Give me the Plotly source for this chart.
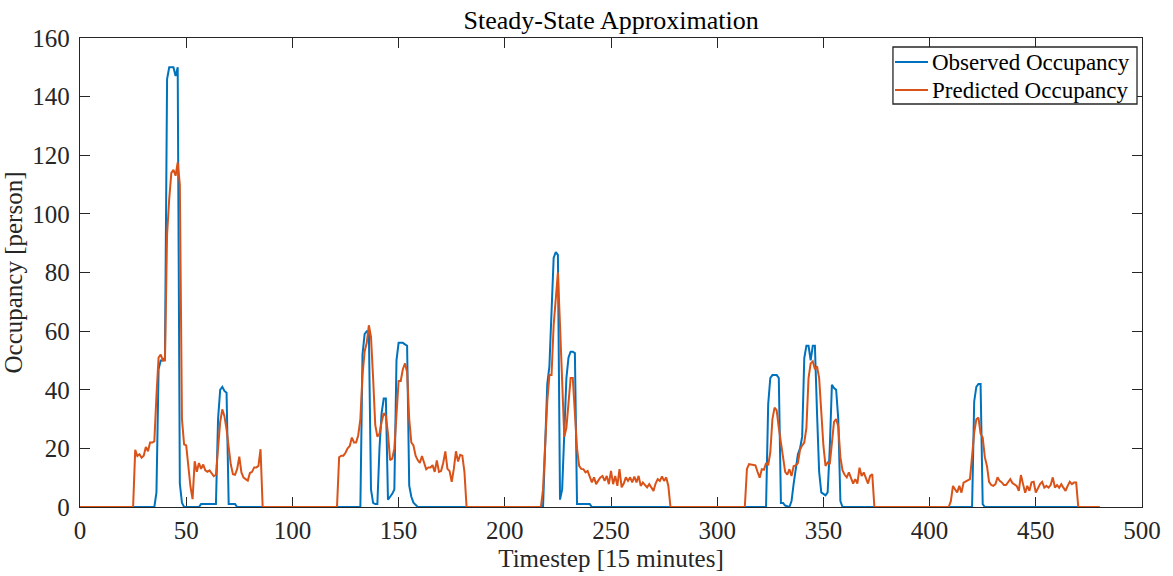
import plotly.graph_objects as go

# ---- data (timestep, occupancy) ----
OBS_T = [0, 35, 36, 37, 38, 39, 40, 41, 42, 43, 44, 45, 46, 47, 48, 49, 56, 57, 64, 65, 66, 67, 68, 69, 70, 73, 74,
         132, 133, 134, 135, 136, 137, 138, 139, 140, 141, 142, 143, 144, 145, 146, 147, 148, 149, 150, 151, 152, 153,
         154, 155, 156, 157, 158, 159,
         218, 219, 220, 221, 222, 223, 224, 225, 226, 227, 228, 229, 230, 231, 232, 233, 234, 240, 241,
         323, 324, 325, 326, 327, 328, 329, 330, 331, 332, 334, 335, 336, 337, 338, 339, 340, 341, 342, 343, 344, 345,
         346, 347, 348, 349, 350, 351, 352, 353, 354, 355, 356, 357, 358, 359,
         420, 421, 422, 423, 424, 425, 426, 480]
OBS_Y = [0, 0, 5, 47, 50, 50, 51, 146, 150, 150, 150, 147, 150, 8, 1.5, 0, 0, 1, 1, 30, 40, 41, 39.6, 39, 1, 1, 0,
         0, 52, 59, 60, 60, 6, 1.4, 1, 1, 20, 32, 37, 37, 2.5, 3.5, 4.5, 6, 50, 56, 56, 56, 55.5,
         55, 7.3, 3.5, 1.5, 0.8, 0,
         0, 25, 42, 48, 65, 85, 87, 86, 2.5, 6, 25, 44, 51, 53, 53, 52.5, 1, 1, 0,
         0, 35, 44, 45, 45, 45, 44, 1.4, 1.4, 0.5, 0, 2, 8, 13, 18, 20, 24, 50.8, 55, 55, 50, 55,
         55, 32, 12, 5, 4.5, 4, 5, 20, 41.7, 40.6, 40, 30, 2, 0,
         0, 36, 41, 42, 42, 1, 0, 0]

PRED_T = [0, 25, 26, 27, 28, 29, 30, 31, 32, 33, 34, 35, 36, 37, 38, 39, 40, 41, 42, 43, 44, 45, 46, 47, 48, 49,
          50, 51, 52, 53, 54, 55, 56, 57, 58, 59, 60, 61, 62, 63, 64, 65, 66, 67, 68, 69, 70, 71, 72, 73, 74, 75,
          76, 77, 78, 79, 80, 81, 82, 83, 84, 85, 86,
          121, 122, 123, 124, 125, 126, 127, 128, 129, 130, 131, 132, 133, 134, 135, 136, 137, 138, 139, 140, 141,
          142, 143, 144, 145, 146, 147, 148, 149, 150, 151, 152, 153, 154, 155, 156, 157, 158, 159, 160, 161, 162,
          163, 164, 165, 166, 167, 168, 169, 170, 171, 172, 173, 174, 175, 176, 177, 178, 179, 180, 181, 182,
          217, 218, 219, 220, 221, 222, 223, 224, 225, 226, 227, 228, 229, 230, 231, 232, 233, 234, 235, 236, 237,
          238, 239, 240, 241, 242, 243, 244, 245, 246, 247, 248, 249, 250, 251, 252, 253, 254, 255, 256, 257, 258,
          259, 260, 261, 262, 263, 264, 265, 266, 267, 268, 269, 270, 271, 272, 273, 274, 275, 276, 277, 278,
          313, 314, 315, 316, 317, 318, 319, 320, 321, 322, 323, 324, 325, 326, 327, 328, 329, 330, 331, 332, 333,
          334, 335, 336, 337, 338, 339, 340, 341, 342, 343, 344, 345, 346, 347, 348, 349, 350, 351, 352, 353, 354,
          355, 356, 357, 358, 359, 360, 361, 362, 363, 364, 365, 366, 367, 368, 369, 370, 371, 372, 373, 374,
          409, 410, 411, 412, 413, 414, 415, 416, 417, 418, 419, 420, 421, 422, 423, 424, 425, 426, 427, 428, 429,
          430, 431, 432, 433, 434, 435, 436, 437, 438, 439, 440, 441, 442, 443, 444, 445, 446, 447, 448, 449, 450,
          451, 452, 453, 454, 455, 456, 457, 458, 459, 460, 461, 462, 463, 464, 465, 466, 467, 468, 469, 470, 480]
PRED_Y = [0, 0, 19.5, 17.4, 18, 16.8, 17.5, 20.5, 19, 22, 22, 22.4, 38, 51, 52, 50, 50, 93, 105, 114, 115, 113, 117.6, 110, 30, 21.4,
          21, 14, 7, 2.7, 15.6, 12, 15, 13, 14.5, 12.5, 12, 12.5, 11.5, 10.5, 11, 19, 29, 33.3, 31, 26.5, 20, 14.5, 11.2, 11, 13, 17.2,
          11.8, 10, 9.5, 9, 11.6, 12, 13.5, 13.5, 14, 19.7, 0,
          0, 17, 17.5, 17.5, 18.5, 20, 20.8, 23.7, 22, 22, 24.5, 30, 45, 53, 56, 62, 58, 44, 28, 24, 25,
          29, 32, 31, 25, 16, 16.5, 20, 32, 43, 43, 47, 49, 46, 30, 22, 21, 17.5, 16, 15, 17.4, 15,
          12.9, 13.5, 13.5, 14.3, 12, 15.9, 12, 12.3, 15, 19, 13, 12.3, 8.6, 13, 19, 15.5, 17.8, 17.5, 12, 0,
          0, 6, 22, 36, 45, 45, 62, 70, 80, 62, 42, 24, 27, 36, 44, 44, 32, 20, 14, 13, 12.9,
          11.8, 12.3, 10.6, 8.4, 10.1, 7.8, 9, 10.1, 10.6, 8.9, 10.6, 7.8, 12.3, 7.8, 10.6, 7.2, 12.9, 6.7, 8, 10.1, 8.9,
          10.1, 8.4, 10.4, 8.4, 10.6, 7.2, 8.4, 7.5, 6.7, 7.8, 6.7, 5.5, 8, 9.5, 8.9, 10.4, 8.9, 10.1, 7.2, 0,
          0, 13, 14.6, 14.5, 14.2, 14.2, 12, 10, 12.9, 12.7, 15, 14.2, 18.6, 30, 33.9, 33, 27, 21, 17, 12, 11,
          12.9, 10.6, 14, 14.2, 15, 19.5, 21, 22, 27, 44, 49, 49.7, 47, 48, 44, 30, 21, 14, 15.2, 14.6, 23,
          29, 30, 27.5, 17, 12.5, 11, 10.1, 11.8, 10.1, 8, 9.5, 8, 13.4, 10.6, 11.8, 9.5, 8, 10.6, 11.2, 0,
          0, 2, 7.2, 6, 5, 7.2, 4.9, 8.3, 8.8, 9.2, 9.5, 17.4, 25.4, 29.9, 30.5, 25, 23.7, 17, 14, 8.6, 7.5,
          7.2, 7.8, 10.1, 8.9, 8.4, 7.5, 7.5, 8.4, 9.5, 8.2, 7.8, 7.2, 5.5, 10.9, 7.8, 4.9, 7.2, 5.5, 8.4, 8.6, 4.9,
          6.6, 7.8, 8.6, 6.6, 7.2, 6.6, 7.5, 10.1, 6.6, 7.5, 6.6, 7.8, 6.6, 5.5, 7.2, 8.6, 7.8, 8.4, 8.4, 0, 0]

X_TICKS = [0, 50, 100, 150, 200, 250, 300, 350, 400, 450, 500]
Y_TICKS = [0, 20, 40, 60, 80, 100, 120, 140, 160]
SERIES = [("Observed Occupancy", OBS_T, OBS_Y, "#0072BD"),
          ("Predicted Occupancy", PRED_T, PRED_Y, "#D95319")]

FONT = "Liberation Serif, Times New Roman, serif"
AX = "#262626"

fig = go.Figure()
for name, xs, ys, col in SERIES:
    fig.add_trace(go.Scatter(x=xs, y=ys, mode="lines", name=name,
                             line=dict(color=col, width=2), showlegend=False))

axis_common = dict(showline=True, linecolor=AX, linewidth=1.3, mirror="ticks",
                   ticks="inside", ticklen=10, tickwidth=1.3, tickcolor=AX,
                   showgrid=False, zeroline=False, layer="below traces", automargin=False,
                   tickfont=dict(family=FONT, size=25, color=AX),
                   title_font=dict(family=FONT, size=25, color=AX))

# legend drawn as a boxed key (paper coordinates)
shapes = [dict(type="rect", xref="paper", yref="paper", x0=0.7655, x1=0.9953, y0=0.8593, y1=0.9808,
               line=dict(color=AX, width=1.3), fillcolor="white", layer="above")]
annotations = []
rows = [0.9488, 0.8891]
for (name, _, _, col), yy in zip(SERIES, rows):
    shapes.append(dict(type="line", xref="paper", yref="paper", x0=0.7674, x1=0.7985, y0=yy, y1=yy,
                       line=dict(color=col, width=2), layer="above"))
    annotations.append(dict(text=name, xref="paper", yref="paper", x=0.8005, y=yy, xanchor="left",
                            yanchor="middle", showarrow=False,
                            font=dict(family=FONT, size=23, color="black")))

fig.update_layout(
    width=1173, height=576,
    margin=dict(l=80, r=31, t=38, b=69),
    paper_bgcolor="white", plot_bgcolor="white",
    title=dict(text="Steady-State Approximation", x=0.521, xanchor="center", y=0.965, yanchor="middle",
               font=dict(family=FONT, size=26, color="black")),
    showlegend=False,
    shapes=shapes, annotations=annotations,
)
fig.update_xaxes(range=[0, 500], tickvals=X_TICKS, title_text="Timestep [15 minutes]",
                 ticklabelstandoff=1, title_standoff=6, **axis_common)
fig.update_yaxes(range=[0, 160], tickvals=Y_TICKS, title_text="Occupancy [person]",
                 ticklabelstandoff=4, title_standoff=4, **axis_common)

fig.write_html("out.html")
